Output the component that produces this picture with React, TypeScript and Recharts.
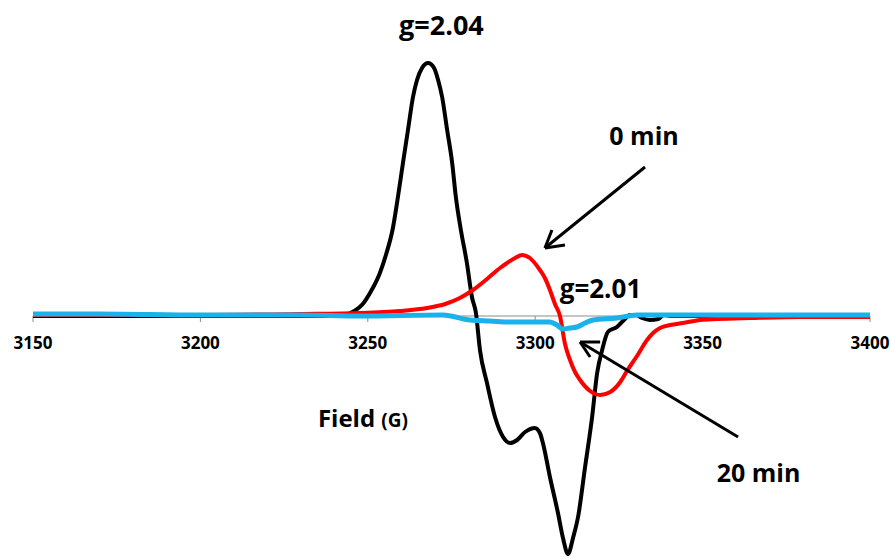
import React from "react";
import { LineChart, Line, XAxis, YAxis, ReferenceLine, ReferenceDot } from "recharts";

// Field (G) tick labels
const FIELD_TICKS = [3150, 3200, 3250, 3300, 3350, 3400];

// Black trace (main spectrum)
const blackField = [3150, 3184.9, 3214.8, 3240.0, 3243.0, 3246.0, 3248.5, 3251.0, 3253.5, 3255.5, 3257.5, 3259.0, 3260.5, 3262.0, 3263.5, 3264.7, 3266.2, 3268.0, 3269.8, 3271.0, 3272.2, 3273.7, 3275.2, 3276.3, 3277.8, 3279.6, 3281.1, 3282.3, 3283.5, 3285.6, 3288.0, 3290.4, 3292.5, 3294.6, 3297.0, 3299.9, 3301.4, 3302.3, 3304.4, 3306.8, 3308.3, 3309.8, 3311.3, 3312.8, 3314.9, 3317.0, 3318.5, 3320.0, 3321.7, 3324.4, 3326.5, 3328.3, 3330.1, 3331.9, 3334.3, 3336.7, 3338.5, 3340.9, 3349.2, 3400];
const blackValues = [0, 0, 0, 0, 1, 5, 12, 25, 42, 62, 88, 119, 153, 186, 219, 236, 248, 253, 248, 236, 219, 186, 153, 119, 86, 53, 19, 3, -34, -67, -101, -121, -127, -124, -116, -112, -117, -127, -161, -197, -222, -238, -222, -201, -151, -101, -57, -34, -16, -11, -4, 1, 1, -2, -4, -3, 1, 0, 0, 0];

// Red trace (0 min)
const redField = [3150, 3199.9, 3229.7, 3247.7, 3259.6, 3267.7, 3273.1, 3277.5, 3281.4, 3285.6, 3289.5, 3291.6, 3294.0, 3296.1, 3298.4, 3301.4, 3302.9, 3304.4, 3305.9, 3307.4, 3308.9, 3310.4, 3311.9, 3313.4, 3316.4, 3319.4, 3322.4, 3325.4, 3327.4, 3330.4, 3333.4, 3335.2, 3337.3, 3340.3, 3344.1, 3349.2, 3354.3, 3364.2, 3379.1, 3400];
const redValues = [1, 1, 2, 3, 5, 8, 12, 18, 26, 37, 48, 53, 58, 61, 58, 46, 38, 26, 12, 0, -28, -44, -56, -64, -75, -79, -76, -66, -55, -40, -24, -17, -12, -9, -7, -4, -3, -2, -1, -1];

// Blue trace (20 min)
const blueField = [3150, 3170, 3199.9, 3229.7, 3247.7, 3272.5, 3280.5, 3286.5, 3292.5, 3299.3, 3304.4, 3306.5, 3308.3, 3310.4, 3312.5, 3314.9, 3317.3, 3324.4, 3330.4, 3343.3, 3364.2, 3400];
const blueValues = [2, 2, 1, 1, 0, 1, -4, -5, -6, -6, -6, -9, -13, -12, -11, -7, -4, -2, 1, 1, 1, 1];

// Annotations: [field, intensity, text, fontSize]
const annotations: [number, number, string, number][] = [
  [3272.0, 281, "g=2.04", 27],
  [3332.5, 171, "0 min", 25],
  [3319.5, 18, "g=2.01", 26],
  [3366.7, -166, "20 min", 25],
];

// Arrows: [tailX, tailY, tipX, tipY, wing1X, wing1Y, wing2X, wing2Y]
const arrows: number[][] = [
  [3332.8, 149, 3302.9, 68, 3305.0, 86, 3308.9, 71],
  [3360.6, -121, 3313.4, -26, 3319.4, -26, 3316.4, -41],
];

const FONT = "'Open Sans', 'Liberation Sans', sans-serif";

const toData = (xs: number[], ys: number[]) => xs.map((f, i) => ({ field: f, v: ys[i] }));

const blackData = toData(blackField, blackValues);
const redData = toData(redField, redValues);
const blueData = toData(blueField, blueValues);

const textDot = (key: string, x: number, y: number, render: (cx: number, cy: number) => React.ReactNode) => (
  <ReferenceDot
    key={key}
    x={x}
    y={y}
    r={0}
    fill="none"
    stroke="none"
    ifOverflow="visible"
    label={{
      content: (p: any) => {
        const vb = p.viewBox || {};
        const cx = (vb.x ?? 0) + (vb.width ?? 0) / 2;
        const cy = (vb.y ?? 0) + (vb.height ?? 0) / 2;
        return render(cx, cy);
      },
    }}
  />
);

export default function App() {
  return (
    <div style={{ position: "absolute", left: 0, top: 0, background: "#fff" }}>
      <LineChart width={892} height={559} margin={{ top: 56, right: 22, bottom: 0, left: 33 }}>
        <XAxis type="number" dataKey="field" domain={[3150, 3400]} hide allowDataOverflow />
        <YAxis type="number" dataKey="v" domain={[-243, 260]} hide />
        <ReferenceLine y={0} stroke="#8c8c8c" strokeWidth={1} />
        {FIELD_TICKS.map((t) => (
          <ReferenceLine
            key={"tk" + t}
            segment={[{ x: t, y: 0 }, { x: t, y: -6 }]}
            stroke="#8c8c8c"
            strokeWidth={1}
            ifOverflow="visible"
          />
        ))}
        <Line data={blackData} dataKey="v" type="monotone" stroke="#000000" strokeWidth={4} dot={false} isAnimationActive={false} />
        <Line data={redData} dataKey="v" type="monotone" stroke="#ff0000" strokeWidth={4} dot={false} isAnimationActive={false} />
        <Line data={blueData} dataKey="v" type="monotone" stroke="#1ab2ea" strokeWidth={5} dot={false} isAnimationActive={false} />
        {arrows.map((a, i) => [
          <ReferenceLine key={"a" + i} segment={[{ x: a[0], y: a[1] }, { x: a[2], y: a[3] }]} stroke="#000" strokeWidth={3} ifOverflow="visible" />,
          <ReferenceLine key={"w1" + i} segment={[{ x: a[2], y: a[3] }, { x: a[4], y: a[5] }]} stroke="#000" strokeWidth={3} ifOverflow="visible" />,
          <ReferenceLine key={"w2" + i} segment={[{ x: a[2], y: a[3] }, { x: a[6], y: a[7] }]} stroke="#000" strokeWidth={3} ifOverflow="visible" />,
        ])}
        {FIELD_TICKS.map((t) =>
          textDot("tl" + t, t, -33, (cx, cy) => (
            <text x={cx} y={cy} textAnchor="middle" fontFamily={FONT} fontWeight={700} fontSize={17} fill="#000">
              {String(t)}
            </text>
          ))
        )}
        {annotations.map(([x, y, s, fs]) =>
          textDot("an" + s, x, y, (cx, cy) => (
            <text x={cx} y={cy} textAnchor="middle" fontFamily={FONT} fontWeight={700} fontSize={fs} fill="#000">
              {s}
            </text>
          ))
        )}
        {textDot("axisTitle", 3235.1, -111, (cx, cy) => (
          <text x={cx} y={cy} textAnchor="start" fontFamily={FONT} fontWeight={700} fill="#000">
            <tspan fontSize={24}>Field </tspan>
            <tspan fontSize={19}>(G)</tspan>
          </text>
        ))}
      </LineChart>
    </div>
  );
}
